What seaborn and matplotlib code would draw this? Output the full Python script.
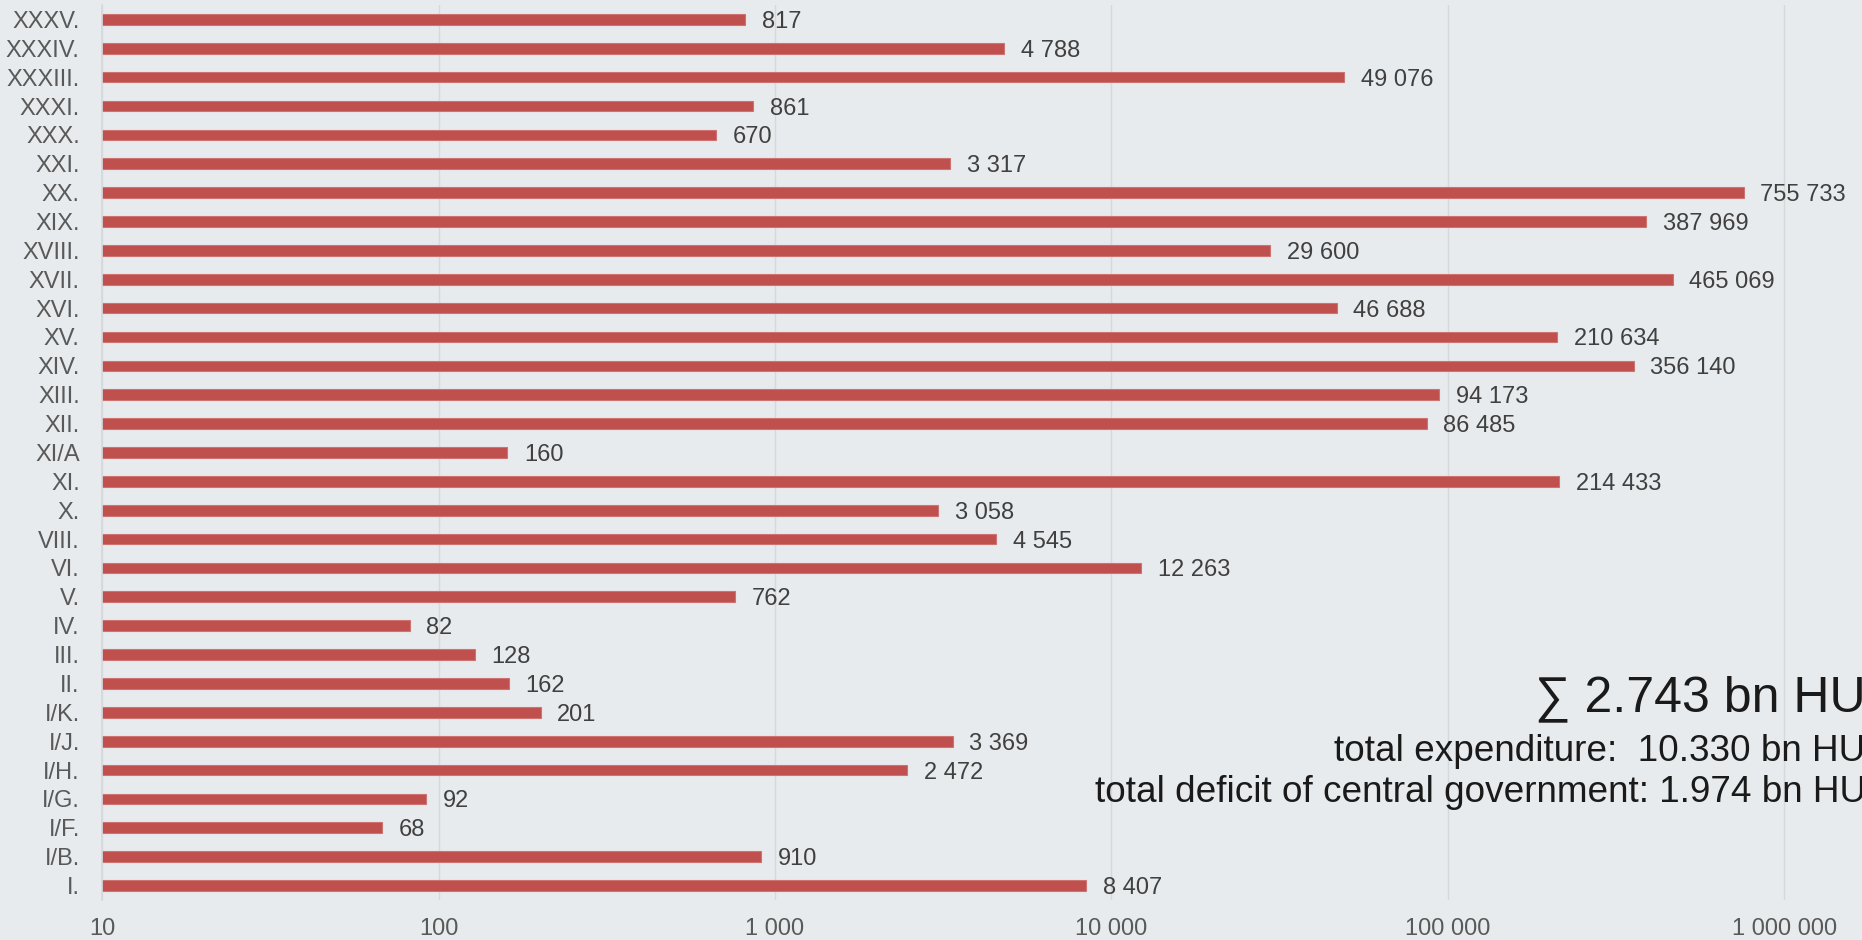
import numpy as np
import pandas as pd
import matplotlib
matplotlib.use('Agg')
import matplotlib.pyplot as plt
from matplotlib.ticker import FixedLocator, FuncFormatter, NullLocator
import seaborn as sns

# chapters, top to bottom as in the chart
chapters = ['XXXV.', 'XXXIV.', 'XXXIII.', 'XXXI.', 'XXX.', 'XXI.', 'XX.', 'XIX.',
            'XVIII.', 'XVII.', 'XVI.', 'XV.', 'XIV.', 'XIII.', 'XII.', 'XI/A',
            'XI.', 'X.', 'VIII.', 'VI.', 'V.', 'IV.', 'III.', 'II.', 'I/K.',
            'I/J.', 'I/H.', 'I/G.', 'I/F.', 'I/B.', 'I.']
amounts = [817, 4788, 49076, 861, 670, 3317, 755733, 387969,
           29600, 465069, 46688, 210634, 356140, 94173, 86485, 160,
           214433, 3058, 4545, 12263, 762, 82, 128, 162, 201,
           3369, 2472, 92, 68, 910, 8407]

x_ticks = [10, 100, 1000, 10000, 100000, 1000000]

summary_total = '\u2211 2.743 bn HU'
summary_exp = 'total expenditure:  10.330 bn HU'
summary_def = 'total deficit of central government: 1.974 bn HU'

df = pd.DataFrame({'chapter': chapters, 'amount': amounts})


def spaced(v):
    return f'{int(round(v)):,}'.replace(',', ' ')


bg = '#E8EBED'
sns.set_theme(style='white', rc={'axes.facecolor': bg, 'figure.facecolor': bg})
plt.rcParams['font.family'] = ['Liberation Sans', 'DejaVu Sans']

fig = plt.figure(figsize=(18.62, 9.40), dpi=100)
ax = fig.add_axes([0.0548, 0.0426, 0.9452, 0.9521])

sns.barplot(data=df, x='amount', y='chapter', orient='h', color='#C0504D',
            saturation=1, width=0.37, edgecolor='#CD7472', linewidth=0.8, ax=ax)

# log axis applied after drawing, bars start from the left edge
ax.set_xscale('log')
ax.set_xlim(10, 1.7e6)
ax.xaxis.set_major_locator(FixedLocator(x_ticks))
ax.xaxis.set_minor_locator(NullLocator())
ax.xaxis.set_major_formatter(FuncFormatter(lambda v, p: spaced(v)))
ax.grid(axis='x', color='#D6D9DC', linewidth=1)
ax.set_axisbelow(True)
for s in ['top', 'right', 'bottom']:
    ax.spines[s].set_visible(False)
ax.spines['left'].set_color('#D6D9DC')
ax.tick_params(axis='both', length=0, labelsize=17, colors='#595959')
ax.tick_params(axis='y', pad=16)
ax.tick_params(axis='x', pad=13)
ax.set_xlabel('')
ax.set_ylabel('')

labels = ax.bar_label(ax.containers[0], labels=[spaced(v) for v in amounts],
                      padding=12, fontsize=17, color='#404040')
for t in labels:
    t.set_va('center_baseline')

fig.text(1.002, 0.243, summary_total, ha='right', va='baseline', fontsize=36, color='#1A1A1A')
fig.text(1.002, 0.190, summary_exp, ha='right', va='baseline', fontsize=26.6, color='#1A1A1A')
fig.text(1.002, 0.147, summary_def, ha='right', va='baseline', fontsize=26.6, color='#1A1A1A')

fig.savefig('out.png', dpi=100, facecolor=bg)
